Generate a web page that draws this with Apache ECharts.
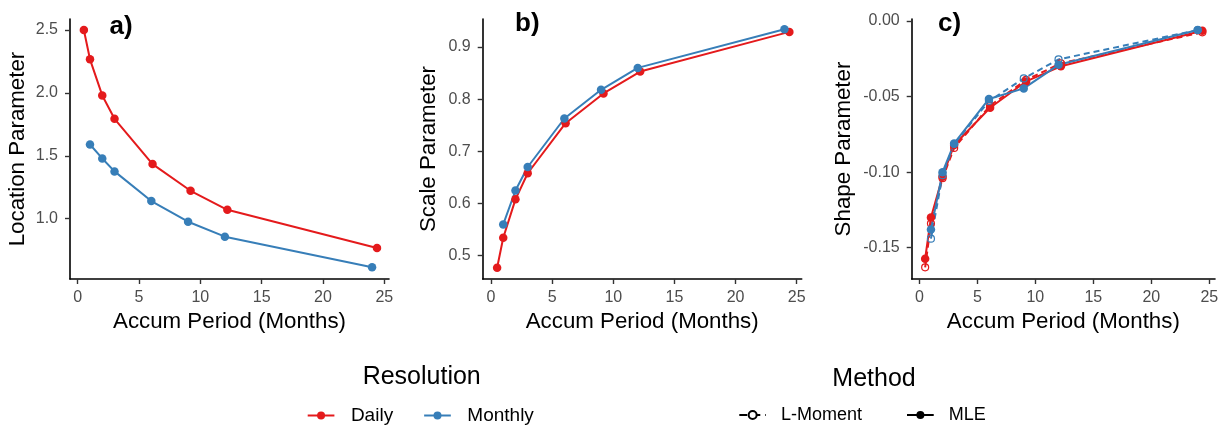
<!DOCTYPE html>
<html>
<head>
<meta charset="utf-8">
<script src="https://cdn.jsdelivr.net/npm/echarts@6/dist/echarts.min.js"></script>
<style>
html,body{margin:0;padding:0;background:#fff;}
#chart{width:1231px;height:431px;}
</style>
</head>
<body>
<div id="chart"></div>
<script>
// ---- data ----
const resolutionNames = ['Daily', 'Monthly'];
const methodNames = ['L-Moment', 'MLE'];
const panelLabels = ['a)', 'b)', 'c)'];
const xTicks = [0, 5, 10, 15, 20, 25];
const locationTicks = [1.0, 1.5, 2.0, 2.5];
const scaleTicks = [0.5, 0.6, 0.7, 0.8, 0.9];
const shapeTicks = [-0.15, -0.10, -0.05, 0.00];

const dailyPeriods = [0.5, 1, 2, 3, 6.1, 9.2, 12.2, 24.4];
const monthlyPeriods = [1, 2, 3, 6, 9, 12, 24];

const dailyLocation = [2.50, 2.267, 1.98, 1.794, 1.434, 1.222, 1.071, 0.767];
const monthlyLocation = [1.59, 1.479, 1.376, 1.14, 0.976, 0.857, 0.614];

const dailyScale = [0.477, 0.5345, 0.608, 0.658, 0.754, 0.811, 0.853, 0.929];
const monthlyScale = [0.56, 0.625, 0.670, 0.763, 0.818, 0.860, 0.934];

const dailyShapeMLE = [-0.1573, -0.130, -0.103, -0.082, -0.0574, -0.040, -0.030, -0.0064];
const dailyShapeLM = [-0.163, -0.134, -0.104, -0.084, -0.056, -0.039, -0.028, -0.0075];
const monthlyShapeMLE = [-0.138, -0.100, -0.081, -0.0516, -0.0446, -0.029, -0.006];
const monthlyShapeLM = [-0.144, -0.102, -0.0814, -0.053, -0.038, -0.0254, -0.006];

// ---- styling ----
const RED = '#E41A1C';
const BLUE = '#377EB8';
const FONT = '"Liberation Sans", Arial, sans-serif';

function pairs(xs, ys) { return xs.map((x, i) => [x, ys[i]]); }

const grids = [
  {left: 70, top: 19, width: 319, height: 260},
  {left: 482.7, top: 19, width: 319, height: 260},
  {left: 911.7, top: 19, width: 303.3, height: 260}
];

function xAxis(gi, min, max) {
  return {
    type: 'value', gridIndex: gi, min: min, max: max,
    name: 'Accum Period (Months)', nameLocation: 'middle', nameGap: 31,
    nameTextStyle: {fontSize: 22.3, color: '#000', fontFamily: FONT},
    axisLine: {show: true, onZero: false, lineStyle: {color: '#000', width: 1.6}},
    axisTick: {show: true, length: 5, customValues: xTicks, lineStyle: {color: '#333', width: 1.4}},
    axisLabel: {customValues: xTicks, fontSize: 16, color: '#4D4D4D', margin: 11, fontFamily: FONT},
    splitLine: {show: false}
  };
}
function yAxis(gi, min, max, ticks, name, gap, dec) {
  return {
    type: 'value', gridIndex: gi, min: min, max: max,
    name: name, nameLocation: 'middle', nameGap: gap, nameRotate: 90,
    nameTextStyle: {fontSize: 22.3, color: '#000', fontFamily: FONT},
    axisLine: {show: true, onZero: false, lineStyle: {color: '#000', width: 1.6}},
    axisTick: {show: true, length: 5, customValues: ticks, lineStyle: {color: '#333', width: 1.4}},
    axisLabel: {customValues: ticks, fontSize: 16, color: '#4D4D4D', margin: 12, fontFamily: FONT,
      formatter: v => Number(v).toFixed(dec)},
    splitLine: {show: false}
  };
}

function solid(name, gi, xs, ys, color) {
  return {
    name: name, type: 'line', xAxisIndex: gi, yAxisIndex: gi,
    data: pairs(xs, ys), symbol: 'circle', symbolSize: 8.5, showSymbol: true,
    itemStyle: {color: color}, lineStyle: {color: color, width: 2},
    animation: false, silent: true
  };
}
function dashedOpen(name, gi, xs, ys, color) {
  return {
    name: name, type: 'line', xAxisIndex: gi, yAxisIndex: gi,
    data: pairs(xs, ys), symbol: 'circle', symbolSize: 7, showSymbol: true,
    itemStyle: {color: 'rgba(0,0,0,0)', borderColor: color, borderWidth: 1.2},
    lineStyle: {color: color, width: 2, type: [6, 4]},
    animation: false, silent: true
  };
}

const series = [
  solid('Daily location', 0, dailyPeriods, dailyLocation, RED),
  solid('Monthly location', 0, monthlyPeriods, monthlyLocation, BLUE),
  solid('Daily scale', 1, dailyPeriods, dailyScale, RED),
  solid('Monthly scale', 1, monthlyPeriods, monthlyScale, BLUE),
  dashedOpen('Daily shape L-Moment', 2, dailyPeriods, dailyShapeLM, RED),
  solid('Daily shape MLE', 2, dailyPeriods, dailyShapeMLE, RED),
  dashedOpen('Monthly shape L-Moment', 2, monthlyPeriods, monthlyShapeLM, BLUE),
  solid('Monthly shape MLE', 2, monthlyPeriods, monthlyShapeMLE, BLUE),
  // legend-only series
  {name: resolutionNames[0], type: 'line', data: [], symbol: 'circle', symbolSize: 8,
   itemStyle: {color: RED}, lineStyle: {color: RED, width: 2}, animation: false},
  {name: resolutionNames[1], type: 'line', data: [], symbol: 'circle', symbolSize: 8,
   itemStyle: {color: BLUE}, lineStyle: {color: BLUE, width: 2}, animation: false},
  {name: methodNames[0], type: 'line', data: [], symbol: 'emptyCircle', symbolSize: 8,
   itemStyle: {color: '#000', borderWidth: 1.2}, lineStyle: {color: '#000', width: 2, type: [8, 5]}, animation: false},
  {name: methodNames[1], type: 'line', data: [], symbol: 'circle', symbolSize: 8,
   itemStyle: {color: '#000'}, lineStyle: {color: '#000', width: 2}, animation: false}
];

const option = {
  backgroundColor: '#fff',
  animation: false,
  grid: grids,
  xAxis: [xAxis(0, -0.63, 25.38), xAxis(1, -0.68, 25.41), xAxis(2, -0.66, 25.49)],
  yAxis: [
    yAxis(0, 0.5207, 2.5874, locationTicks, 'Location Parameter', 41, 1),
    yAxis(1, 0.4553, 0.9537, scaleTicks, 'Scale Parameter', 43, 1),
    yAxis(2, -0.1707, 0.00132, shapeTicks, 'Shape Parameter', 57, 2)
  ],
  legend: [
    {data: resolutionNames, left: 306.7, top: 406, padding: 0, itemWidth: 26.7, itemHeight: 10,
     itemGap: 30, selectedMode: false,
     textStyle: {fontSize: 19, color: '#000', fontFamily: FONT, padding: [0, 0, 0, 11.5]}},
    {data: methodNames, left: 738.3, top: 406, padding: 0, itemWidth: 26.7, itemHeight: 10,
     itemGap: 44, selectedMode: false,
     textStyle: {fontSize: 18, color: '#000', fontFamily: FONT, padding: [0, 0, 0, 10]}}
  ],
  graphic: [
    {type: 'text', x: 109.5, y: 26.5, silent: true, style: {text: panelLabels[0], fontSize: 26, fontWeight: 'bold', fontFamily: FONT, fill: '#000', verticalAlign: 'middle'}},
    {type: 'text', x: 515, y: 24, silent: true, style: {text: panelLabels[1], fontSize: 26, fontWeight: 'bold', fontFamily: FONT, fill: '#000', verticalAlign: 'middle'}},
    {type: 'text', x: 938, y: 24, silent: true, style: {text: panelLabels[2], fontSize: 26, fontWeight: 'bold', fontFamily: FONT, fill: '#000', verticalAlign: 'middle'}},
    {type: 'text', x: 421.7, y: 377.5, silent: true, style: {text: 'Resolution', fontSize: 25, fontFamily: FONT, fill: '#000', align: 'center', verticalAlign: 'middle'}},
    {type: 'text', x: 874, y: 379, silent: true, style: {text: 'Method', fontSize: 25, fontFamily: FONT, fill: '#000', align: 'center', verticalAlign: 'middle'}}
  ],
  series: series
};

const chart = echarts.init(document.getElementById('chart'), null, {renderer: 'canvas'});
chart.setOption(option);
</script>
</body>
</html>
